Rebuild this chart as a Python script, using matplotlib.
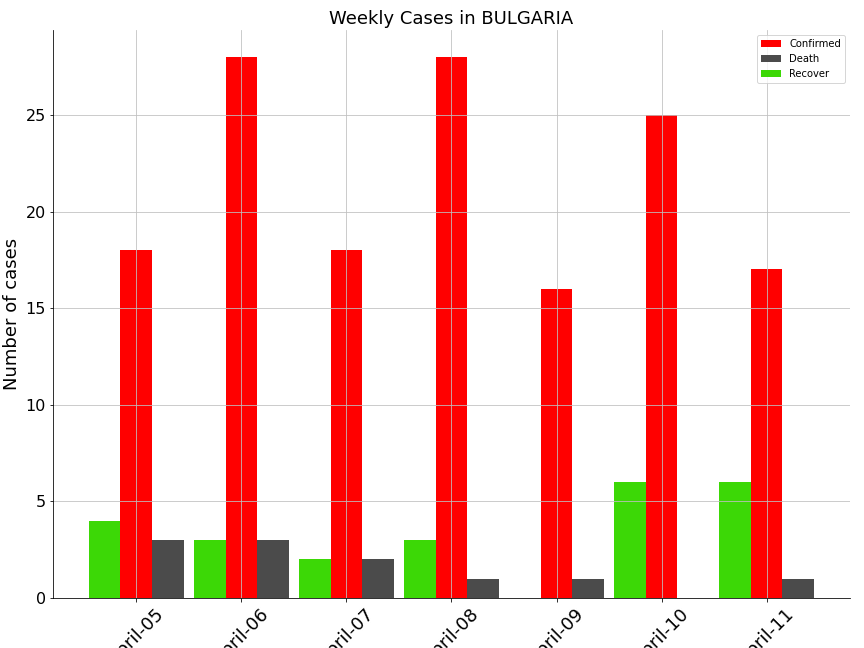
import matplotlib
matplotlib.use("Agg")
import matplotlib.pyplot as plt
import numpy as np

days = ["April-05", "April-06", "April-07", "April-08", "April-09", "April-10", "April-11"]
confirmed = [18, 28, 18, 28, 16, 25, 17]
death = [3, 3, 2, 1, 1, 0, 1]
recover = [4, 3, 2, 3, 0, 6, 6]


def main():
    fig, ax = plt.subplots(figsize=(12, 9), dpi=72)
    x = np.arange(len(days))
    w = 0.3
    ax.bar(x, confirmed, w, color="#ff0000", label="Confirmed")
    ax.bar(x + w, death, w, color="#4b4b4b", label="Death")
    ax.bar(x - w, recover, w, color="#3cd806", label="Recover")

    ax.set_xticks(x)
    ax.set_xticklabels(days, rotation=45, fontsize=18)
    ax.tick_params(axis="y", labelsize=16)
    ax.set_ylabel("Number of cases", fontsize=18)
    ax.set_title("Weekly Cases in BULGARIA", fontsize=18)
    ax.grid(True, color="#c0c0c0")
    ax.spines["top"].set_visible(False)
    ax.spines["right"].set_visible(False)
    ax.legend(loc="upper right", fontsize=10)
    plt.subplots_adjust(left=0.061, right=0.984, top=0.954, bottom=0.077)
    fig.savefig("out.png", dpi=72)


if __name__ == '__main__':
    main()
